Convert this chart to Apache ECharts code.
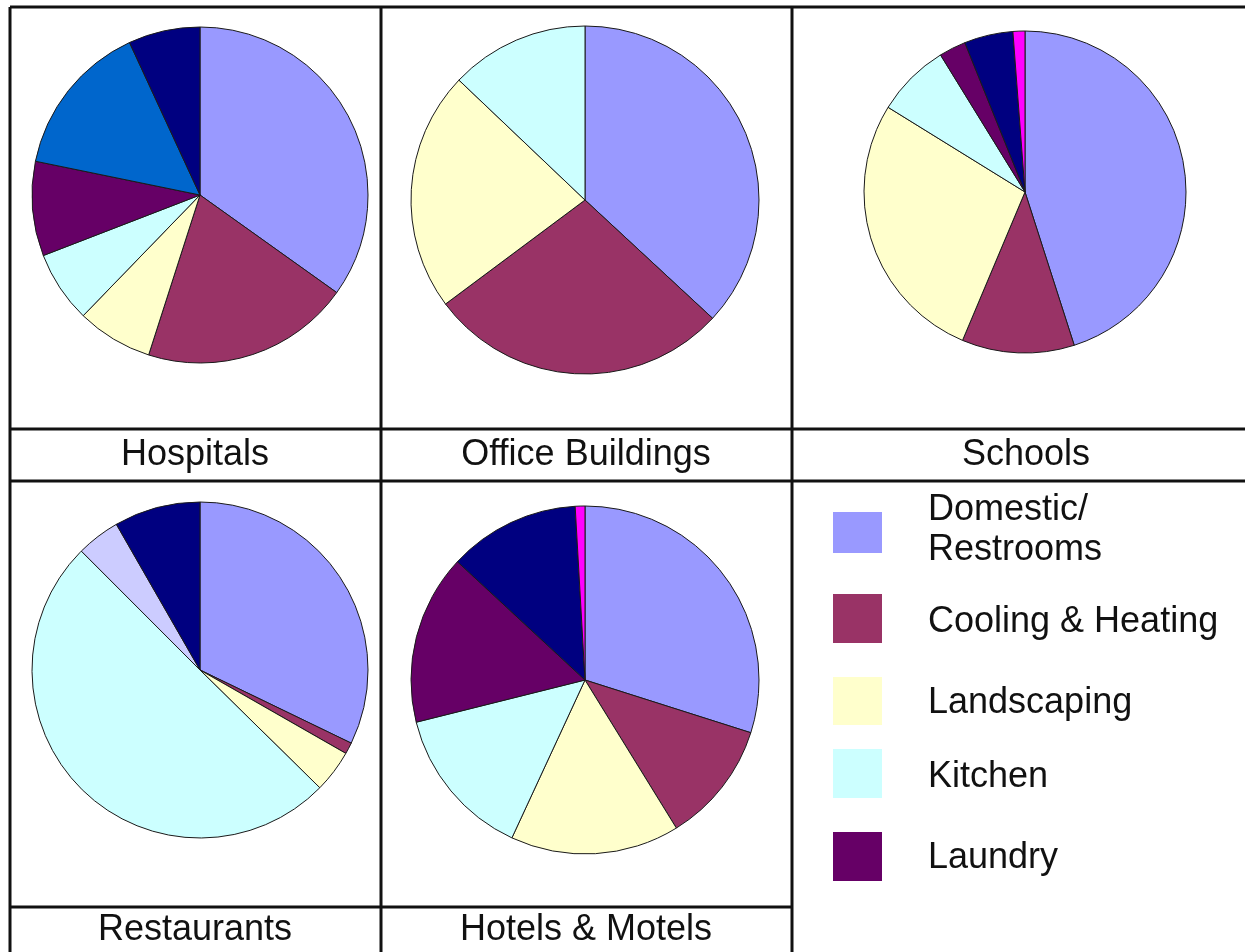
<!DOCTYPE html>
<html>
<head>
<meta charset="utf-8">
<script src="https://cdn.jsdelivr.net/npm/echarts@6/dist/echarts.min.js"></script>
<style>
html,body{margin:0;padding:0;background:#fff;}
#chart{width:1245px;height:952px;}
</style>
</head>
<body>
<div id="chart"></div>
<script>
// ---- data ----
var categories = ["Domestic/Restrooms", "Cooling & Heating", "Landscaping", "Kitchen", "Laundry",
                  "Process", "Other", "Unaccounted", "Leaks"];
var legendCategories = ["Domestic/\nRestrooms", "Cooling & Heating", "Landscaping", "Kitchen", "Laundry"];
var colors = ["#9999FF", "#993366", "#FFFFCC", "#CCFFFF", "#660066",
              "#0066CC", "#CCCCFF", "#000080", "#FF00FF"];
var facilities = ["Hospitals", "Office Buildings", "Schools", "Restaurants", "Hotels & Motels"];
var hospitals   = [34.9, 20.1, 7.3, 6.9, 9.1, 14.9, 0, 6.9, 0];
var offices     = [36.9, 27.9, 22.3, 12.9, 0, 0, 0, 0, 0];
var schools     = [45.1, 11.3, 27.5, 7.4, 2.7, 0, 0, 4.9, 1.2];
var restaurants = [32.2, 1.1, 4.1, 50.2, 0, 0, 4.2, 8.3, 0];
var hotels      = [29.9, 11.3, 15.7, 14.2, 15.8, 0, 0, 12.2, 0.9];

// ---- layout ----
var allValues = [hospitals, offices, schools, restaurants, hotels];
var pieCenters = [[200, 195], [585, 200], [1025, 192], [200, 670], [585, 680]];
var pieRadii = [168, 174, 161, 168, 174];
var labelPos = [[195, 455], [586, 455], [1026, 455], [195, 930], [586, 930]];
var FONT = "'Liberation Sans', Arial, Helvetica, sans-serif";

var chart = echarts.init(document.getElementById('chart'), null, {renderer: 'canvas'});

var series = allValues.map(function (vals, i) {
  var data = [];
  vals.forEach(function (v, k) {
    if (v > 0) data.push({name: categories[k], value: v, itemStyle: {color: colors[k]}});
  });
  return {
    type: 'pie',
    name: facilities[i],
    center: pieCenters[i],
    radius: pieRadii[i],
    startAngle: 90,
    clockwise: true,
    label: {show: false},
    labelLine: {show: false},
    emphasis: {disabled: true},
    silent: true,
    itemStyle: {borderColor: '#1a1a1a', borderWidth: 1},
    data: data
  };
});

var graphics = [];
var lineStyle = {stroke: '#111', lineWidth: 3};
// grid lines
[[10, 7, 1245, 7], [10, 429, 1245, 429], [10, 481, 1245, 481], [10, 907, 792, 907],
 [10, 7, 10, 952], [381, 7, 381, 952], [792, 7, 792, 952]].forEach(function (l) {
  graphics.push({type: 'line', shape: {x1: l[0], y1: l[1], x2: l[2], y2: l[3]}, style: lineStyle, silent: true, z: 10});
});
// facility labels
facilities.forEach(function (f, i) {
  graphics.push({type: 'text', x: labelPos[i][0], y: labelPos[i][1],
    style: {text: f, font: '36px ' + FONT, fill: '#111', textAlign: 'center', textVerticalAlign: 'middle'}, z: 11});
});
// legend
var legSqY = [512, 594, 677, 749, 832];
var legSqH = [41, 49, 48, 49, 49];
var legTextY = [530, 622, 703, 777, 858];
legendCategories.forEach(function (c, i) {
  graphics.push({type: 'rect', shape: {x: 833, y: legSqY[i], width: 49, height: legSqH[i]},
    style: {fill: colors[i]}, z: 11});
  graphics.push({type: 'text', x: 928, y: legTextY[i],
    style: {text: c, font: '36px ' + FONT, fill: '#111', textAlign: 'left', textVerticalAlign: 'middle', lineHeight: 40}, z: 11});
});

chart.setOption({
  backgroundColor: '#ffffff',
  animation: false,
  series: series,
  graphic: graphics
});
</script>
</body>
</html>
